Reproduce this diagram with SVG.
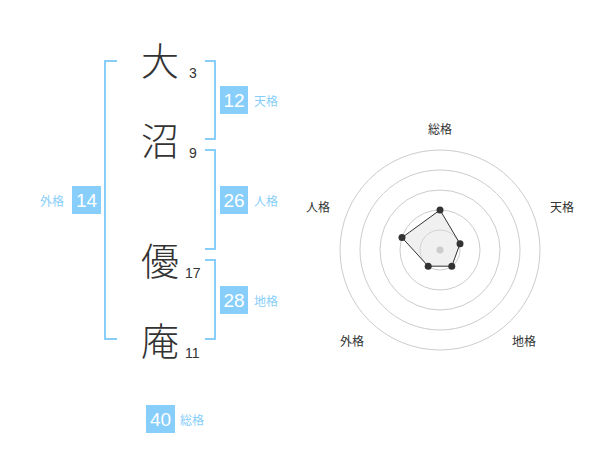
<svg xmlns="http://www.w3.org/2000/svg" width="600" height="470" viewBox="0 0 600 470">
<style>
.kanji{font-family:"Noto Sans CJK JP","Noto Sans CJK SC",sans-serif;font-size:38px;font-weight:300;fill:#333;text-anchor:middle}
.num{font-family:"Liberation Sans",Arial,sans-serif;font-size:14px;fill:#333}
.br{fill:none;stroke:#87cefa;stroke-width:2}
.box{fill:#87cefa}
.bnum{font-family:"Liberation Sans",Arial,sans-serif;font-size:19px;fill:#fff;text-anchor:middle}
.blab{font-family:"Noto Sans CJK JP",sans-serif;font-size:12px;fill:#87cefa}
.ring{fill:none;stroke:#ccc;stroke-width:1}
.rlab{font-family:"Noto Sans CJK JP",sans-serif;font-size:12px;fill:#333;text-anchor:middle}
.dot{fill:#333}
</style>
<rect width="600" height="470" fill="#fff"/>
<g id="names">
<g id="c1"><text class="kanji" x="160" y="75">大</text><text class="num" x="189" y="78">3</text></g>
<g id="c2"><text class="kanji" x="160" y="155">沼</text><text class="num" x="189" y="158">9</text></g>
<g id="c3"><text class="kanji" x="160" y="275">優</text><text class="num" x="185" y="278">17</text></g>
<g id="c4"><text class="kanji" x="160" y="355">庵</text><text class="num" x="185" y="358">11</text></g>
</g>
<g id="connectors">
<path class="br" d="M117,61 H105 V339 H117"/>
<path class="br" d="M205,61 H215 V139 H205"/>
<path class="br" d="M205,150 H215 V249 H205"/>
<path class="br" d="M205,260 H215 V339 H205"/>
</g>
<g id="tenkaku"><rect class="box" x="220" y="86" width="28" height="28"/><text class="bnum" x="234" y="107">12</text><text class="blab" x="254" y="106">天格</text></g>
<g id="jinkaku"><rect class="box" x="220" y="186" width="28" height="28"/><text class="bnum" x="234" y="207">26</text><text class="blab" x="254" y="206">人格</text></g>
<g id="chikaku"><rect class="box" x="220" y="286" width="28" height="28"/><text class="bnum" x="234" y="307">28</text><text class="blab" x="254" y="306">地格</text></g>
<g id="gaikaku"><rect class="box" x="72" y="186" width="29" height="28"/><text class="bnum" x="86.5" y="207">14</text><text class="blab" x="40" y="206">外格</text></g>
<g id="soukaku"><rect class="box" x="146" y="405" width="29" height="28"/><text class="bnum" x="160.5" y="426">40</text><text class="blab" x="180" y="425">総格</text></g>
<g id="radar">
<circle class="ring" cx="440" cy="250" r="20"/>
<circle class="ring" cx="440" cy="250" r="40"/>
<circle class="ring" cx="440" cy="250" r="60"/>
<circle class="ring" cx="440" cy="250" r="80"/>
<circle class="ring" cx="440" cy="250" r="100"/>
<polygon points="440,210 460,243.8 451.8,266.2 428.2,266.2 402,237.6" fill="#ddd" fill-opacity="0.45" stroke="#333" stroke-width="1"/>
<circle cx="440" cy="250" r="3.5" fill="#ccc"/>
<circle class="dot" cx="440" cy="210" r="3.5"/>
<circle class="dot" cx="460" cy="243.8" r="3.5"/>
<circle class="dot" cx="451.8" cy="266.2" r="3.5"/>
<circle class="dot" cx="428.2" cy="266.2" r="3.5"/>
<circle class="dot" cx="402" cy="237.6" r="3.5"/>
<text class="rlab" x="440" y="134">総格</text>
<text class="rlab" x="562" y="212">天格</text>
<text class="rlab" x="318" y="212">人格</text>
<text class="rlab" x="352" y="346">外格</text>
<text class="rlab" x="524" y="346">地格</text>
</g>
</svg>
